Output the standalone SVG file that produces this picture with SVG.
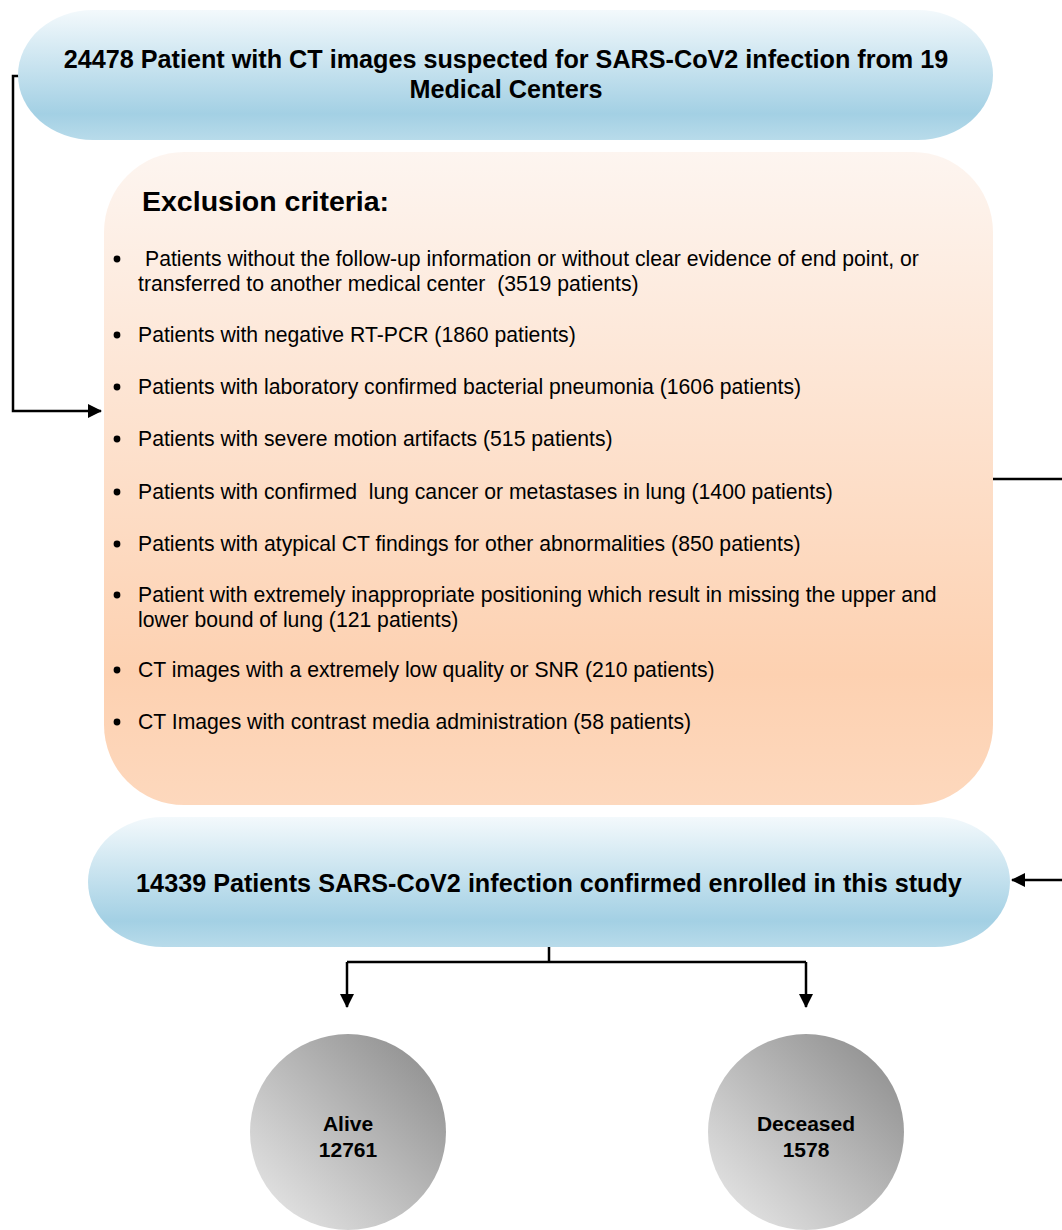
<svg xmlns="http://www.w3.org/2000/svg" width="1062" height="1230" viewBox="0 0 1062 1230">
<style>
.hd{font-family:"Liberation Sans",Arial,sans-serif;font-weight:bold;font-size:25.2px;fill:#000;text-anchor:middle}
.it{font-family:"Liberation Sans",Arial,sans-serif;font-size:21.2px;fill:#000}
.ex{font-family:"Liberation Sans",Arial,sans-serif;font-weight:bold;font-size:28.5px;fill:#000}
.cl{font-family:"Liberation Sans",Arial,sans-serif;font-weight:bold;font-size:21px;fill:#000;text-anchor:middle}
.ln{stroke:#000;stroke-width:2.5;fill:none}
</style>
<defs>
<linearGradient id="blue" x1="0" y1="0" x2="0" y2="1">
<stop offset="0" stop-color="#f3f9fc"/>
<stop offset="0.8" stop-color="#a3d0e4"/>
<stop offset="1" stop-color="#b8dbea"/>
</linearGradient>
<linearGradient id="peach" x1="0" y1="0" x2="0" y2="1">
<stop offset="0" stop-color="#fdf5f0"/>
<stop offset="0.8" stop-color="#fdd1b1"/>
<stop offset="1" stop-color="#fdd8bd"/>
</linearGradient>
<linearGradient id="gray" x1="0" y1="1" x2="1" y2="0">
<stop offset="0" stop-color="#ececec"/>
<stop offset="1" stop-color="#888888"/>
</linearGradient>
<marker id="ah" markerWidth="14" markerHeight="14" refX="13" refY="7" orient="auto" markerUnits="userSpaceOnUse">
<path d="M0,0 L14,7 L0,14 z" fill="#000"/>
</marker>
</defs>
<g id="connectors">
<path class="ln" d="M19,76 H13 V411 H101" marker-end="url(#ah)"/>
<path class="ln" d="M993,479 H1064 V880 H1012" marker-end="url(#ah)"/>
<path class="ln" d="M549,947 V962 M347,962 H806"/>
<path class="ln" d="M347,962 V1007" marker-end="url(#ah)"/>
<path class="ln" d="M806,962 V1007" marker-end="url(#ah)"/>
</g>
<g id="n-start">
<rect x="18" y="10" width="975" height="130" rx="75" ry="65" fill="url(#blue)"/>
<text class="hd" x="506" y="68">24478 Patient with CT images suspected for SARS-CoV2 infection from 19</text>
<text class="hd" x="506" y="98">Medical Centers</text>
</g>
<g id="n-exclusion">
<rect x="104" y="152" width="889" height="653" rx="80" ry="80" fill="url(#peach)"/>
<text class="ex" x="142" y="211">Exclusion criteria:</text>
<g class="it">
<circle cx="117" cy="259" r="3.4"/><text x="145" y="266">Patients without the follow-up information or without clear evidence of end point, or</text>
<text x="138" y="291">transferred to another medical center &#160;(3519 patients)</text>
<circle cx="117" cy="335" r="3.4"/><text x="138" y="342">Patients with negative RT-PCR (1860 patients)</text>
<circle cx="117" cy="387" r="3.4"/><text x="138" y="394">Patients with laboratory confirmed bacterial pneumonia (1606 patients)</text>
<circle cx="117" cy="439" r="3.4"/><text x="138" y="446">Patients with severe motion artifacts (515 patients)</text>
<circle cx="117" cy="492" r="3.4"/><text x="138" y="499">Patients with confirmed &#160;lung cancer or metastases in lung (1400 patients)</text>
<circle cx="117" cy="544" r="3.4"/><text x="138" y="551">Patients with atypical CT findings for other abnormalities (850 patients)</text>
<circle cx="117" cy="595" r="3.4"/><text x="138" y="602">Patient with extremely inappropriate positioning which result in missing the upper and</text>
<text x="138" y="627">lower bound of lung (121 patients)</text>
<circle cx="117" cy="670" r="3.4"/><text x="138" y="677">CT images with a extremely low quality or SNR (210 patients)</text>
<circle cx="117" cy="722" r="3.4"/><text x="138" y="729">CT Images with contrast media administration (58 patients)</text>
</g>
</g>
<g id="n-enrolled">
<rect x="88" y="817" width="922" height="130" rx="75" ry="65" fill="url(#blue)"/>
<text class="hd" x="549" y="892">14339 Patients SARS-CoV2 infection confirmed enrolled in this study</text>
</g>
<g id="n-alive">
<circle cx="348" cy="1132" r="98" fill="url(#gray)"/>
<text class="cl" x="348" y="1131">Alive</text>
<text class="cl" x="348" y="1157">12761</text>
</g>
<g id="n-deceased">
<circle cx="806" cy="1132" r="98" fill="url(#gray)"/>
<text class="cl" x="806" y="1131">Deceased</text>
<text class="cl" x="806" y="1157">1578</text>
</g>
</svg>
